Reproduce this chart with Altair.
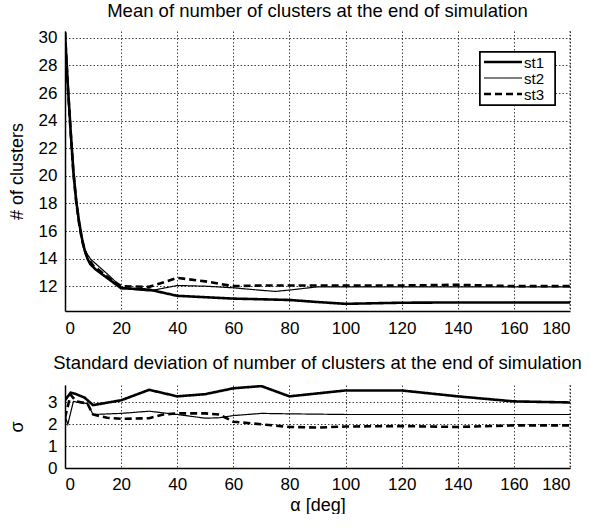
import altair as alt
import pandas as pd

FONT = "Liberation Sans"
SERIES = ["st1", "st2", "st3"]

# ---------- Mean of number of clusters ----------
mean_alpha_st1 = [0, 1, 2, 3, 4, 5, 6, 7, 8, 9, 11, 15, 20, 30, 40, 50, 60, 70, 80, 90, 100, 120, 140, 160, 180]
mean_st1 = [30.4, 26.6, 23.3, 20.3, 18.2, 16.7, 15.5, 14.6, 14.0, 13.6, 13.2, 12.6, 11.85, 11.75, 11.3, 11.2, 11.1, 11.05, 11.0, 10.85, 10.72, 10.8, 10.82, 10.82, 10.82]

mean_alpha_st2 = [0, 1, 2, 3, 4, 5, 6, 7, 8, 9, 10, 15, 20, 25, 30, 40, 50, 60, 70, 75, 80, 90, 100, 120, 140, 160, 180]
mean_st2 = [30.4, 26.4, 23.1, 20.1, 18.0, 16.5, 15.4, 14.7, 14.3, 14.0, 13.8, 12.9, 11.95, 11.75, 11.65, 12.05, 12.0, 11.88, 11.7, 11.62, 11.72, 11.95, 11.95, 11.95, 11.95, 11.95, 11.95]

mean_alpha_st3 = [0, 1, 2, 3, 4, 5, 6, 7, 8, 9, 10, 15, 20, 30, 40, 50, 60, 70, 80, 100, 120, 140, 160, 180]
mean_st3 = [30.4, 26.5, 23.2, 20.2, 18.1, 16.6, 15.4, 14.6, 14.1, 13.8, 13.5, 12.7, 12.0, 11.95, 12.6, 12.35, 12.0, 12.05, 12.05, 12.05, 12.05, 12.1, 12.0, 12.0]

# ---------- Standard deviation ----------
sd_alpha_st1 = [0, 2, 4, 7, 10, 20, 30, 40, 50, 60, 70, 80, 100, 120, 140, 160, 180]
sd_st1 = [3.1, 3.45, 3.38, 3.22, 2.88, 3.1, 3.58, 3.28, 3.38, 3.65, 3.75, 3.28, 3.55, 3.55, 3.28, 3.05, 3.0]

sd_alpha_st2 = [0, 1, 3, 5, 8, 10, 20, 30, 40, 50, 55, 60, 70, 80, 100, 120, 140, 160, 180]
sd_st2 = [2.4, 2.0, 3.05, 3.0, 2.95, 2.45, 2.5, 2.6, 2.45, 2.28, 2.3, 2.4, 2.5, 2.48, 2.45, 2.45, 2.45, 2.45, 2.45]

sd_alpha_st3 = [0, 2, 4, 8, 10, 15, 20, 30, 35, 40, 50, 55, 60, 70, 80, 90, 100, 120, 140, 160, 180]
sd_st3 = [2.3, 3.35, 3.05, 2.95, 2.45, 2.3, 2.25, 2.28, 2.45, 2.5, 2.5, 2.45, 2.12, 2.0, 1.88, 1.85, 1.9, 1.92, 1.88, 1.95, 1.95]

x_ticks = [0, 20, 40, 60, 80, 100, 120, 140, 160, 180]
mean_ticks = [12, 14, 16, 18, 20, 22, 24, 26, 28, 30]
sd_ticks = [0, 1, 2, 3]

STYLE_WIDTH = {"st1": 2.6, "st2": 1.2, "st3": 2.6}
STYLE_DASH = {"st1": [1, 0], "st2": [1, 0], "st3": [7, 4]}

PLOT_W = 505


def table(parts):
    rows = []
    for name, xs, ys in parts:
        for a, v in zip(xs, ys):
            rows.append({"alpha": a, "value": v, "series": name})
    return pd.DataFrame(rows)


mean_df = table([("st1", mean_alpha_st1, mean_st1),
                 ("st2", mean_alpha_st2, mean_st2),
                 ("st3", mean_alpha_st3, mean_st3)])
sd_df = table([("st1", sd_alpha_st1, sd_st1),
               ("st2", sd_alpha_st2, sd_st2),
               ("st3", sd_alpha_st3, sd_st3)])

LABEL_FS = 17
TITLE_FS = 18.5
grid_common = dict(grid=True, gridDash=[1.5, 2], gridColor="black", gridOpacity=0.75, gridWidth=1,
                   ticks=False, domainColor="black", domainWidth=1.5,
                   labelFont=FONT, labelFontSize=LABEL_FS, labelColor="black",
                   titleFont=FONT, titleFontSize=18, titleFontWeight="normal", titleColor="black")


def x_axis(title, pad):
    kw = dict(grid_common)
    kw.update(values=x_ticks, labelPadding=pad, titlePadding=4)
    if title is None:
        return alt.Axis(title=None, **kw)
    return alt.Axis(title=title, **kw)


def y_axis(title, vals):
    kw = dict(grid_common)
    kw.update(values=vals, labelPadding=8, titleX=-48, titleBaseline="middle")
    return alt.Axis(title=title, **kw)


def series_layers(df, xscale, yscale, xax, yax):
    out = []
    for s in SERIES:
        out.append(
            alt.Chart(df).transform_filter(alt.datum.series == s).mark_line(
                color="black", strokeWidth=STYLE_WIDTH[s], strokeDash=STYLE_DASH[s], clip=True
            ).encode(
                x=alt.X("alpha:Q", scale=xscale, axis=xax),
                y=alt.Y("value:Q", scale=yscale, axis=yax),
                order="alpha:Q",
            )
        )
    # dotted grid line on the right edge of the panel (last x tick)
    out.append(
        alt.Chart(pd.DataFrame({"alpha": [x_ticks[-1]]})).mark_rule(
            color="black", strokeDash=[1.5, 2], opacity=0.75, strokeWidth=1
        ).encode(x=alt.X("alpha:Q", scale=xscale, axis=xax))
    )
    return out


# Legend (drawn inside the top panel, pixel positions relative to the plot area)
LX = PLOT_W - 90
legend_layers = [
    alt.Chart(pd.DataFrame({"series": SERIES})).mark_rect(
        fill="white", stroke="black", strokeWidth=1.5
    ).encode(x=alt.value(LX), x2=alt.value(LX + 75), y=alt.value(21), y2=alt.value(74))
]
for i, s in enumerate(SERIES):
    row_df = pd.DataFrame({"series": [s]})
    yy = 31 + 16 * i
    legend_layers.append(
        alt.Chart(row_df).mark_rule(
            color="black", strokeWidth=STYLE_WIDTH[s], strokeDash=STYLE_DASH[s]
        ).encode(x=alt.value(LX + 4), x2=alt.value(LX + 42), y=alt.value(yy))
    )
    legend_layers.append(
        alt.Chart(row_df).mark_text(
            font=FONT, fontSize=15, color="black", align="left", baseline="middle"
        ).encode(x=alt.value(LX + 44), y=alt.value(yy + 1), text="series:N")
    )

xs = alt.Scale(domain=[0, 180], nice=False)

top = alt.layer(
    *series_layers(mean_df, xs, alt.Scale(domain=[10.2, 30.5], nice=False, zero=False),
                   x_axis(None, 9), y_axis("# of clusters", mean_ticks)),
    *legend_layers,
).properties(
    width=PLOT_W, height=280,
    title=alt.TitleParams("Mean of number of clusters at the end of simulation",
                          font=FONT, fontSize=TITLE_FS, fontWeight="normal", color="black", offset=8),
)

bottom = alt.layer(
    *series_layers(sd_df, xs, alt.Scale(domain=[0, 3.8], nice=False, zero=False),
                   x_axis("α [deg]", 8), y_axis("σ", sd_ticks)),
).properties(
    width=PLOT_W, height=83,
    title=alt.TitleParams("Standard deviation of number of clusters at the end of simulation",
                          font=FONT, fontSize=TITLE_FS, fontWeight="normal", color="black", offset=12),
)

chart = alt.vconcat(top, bottom, spacing=18).properties(
    padding={"left": 8, "top": 2, "right": 0, "bottom": 0},
    background="white",
).configure_view(stroke=None)

chart.save("out.html", embed_options={"renderer": "svg", "actions": False})
